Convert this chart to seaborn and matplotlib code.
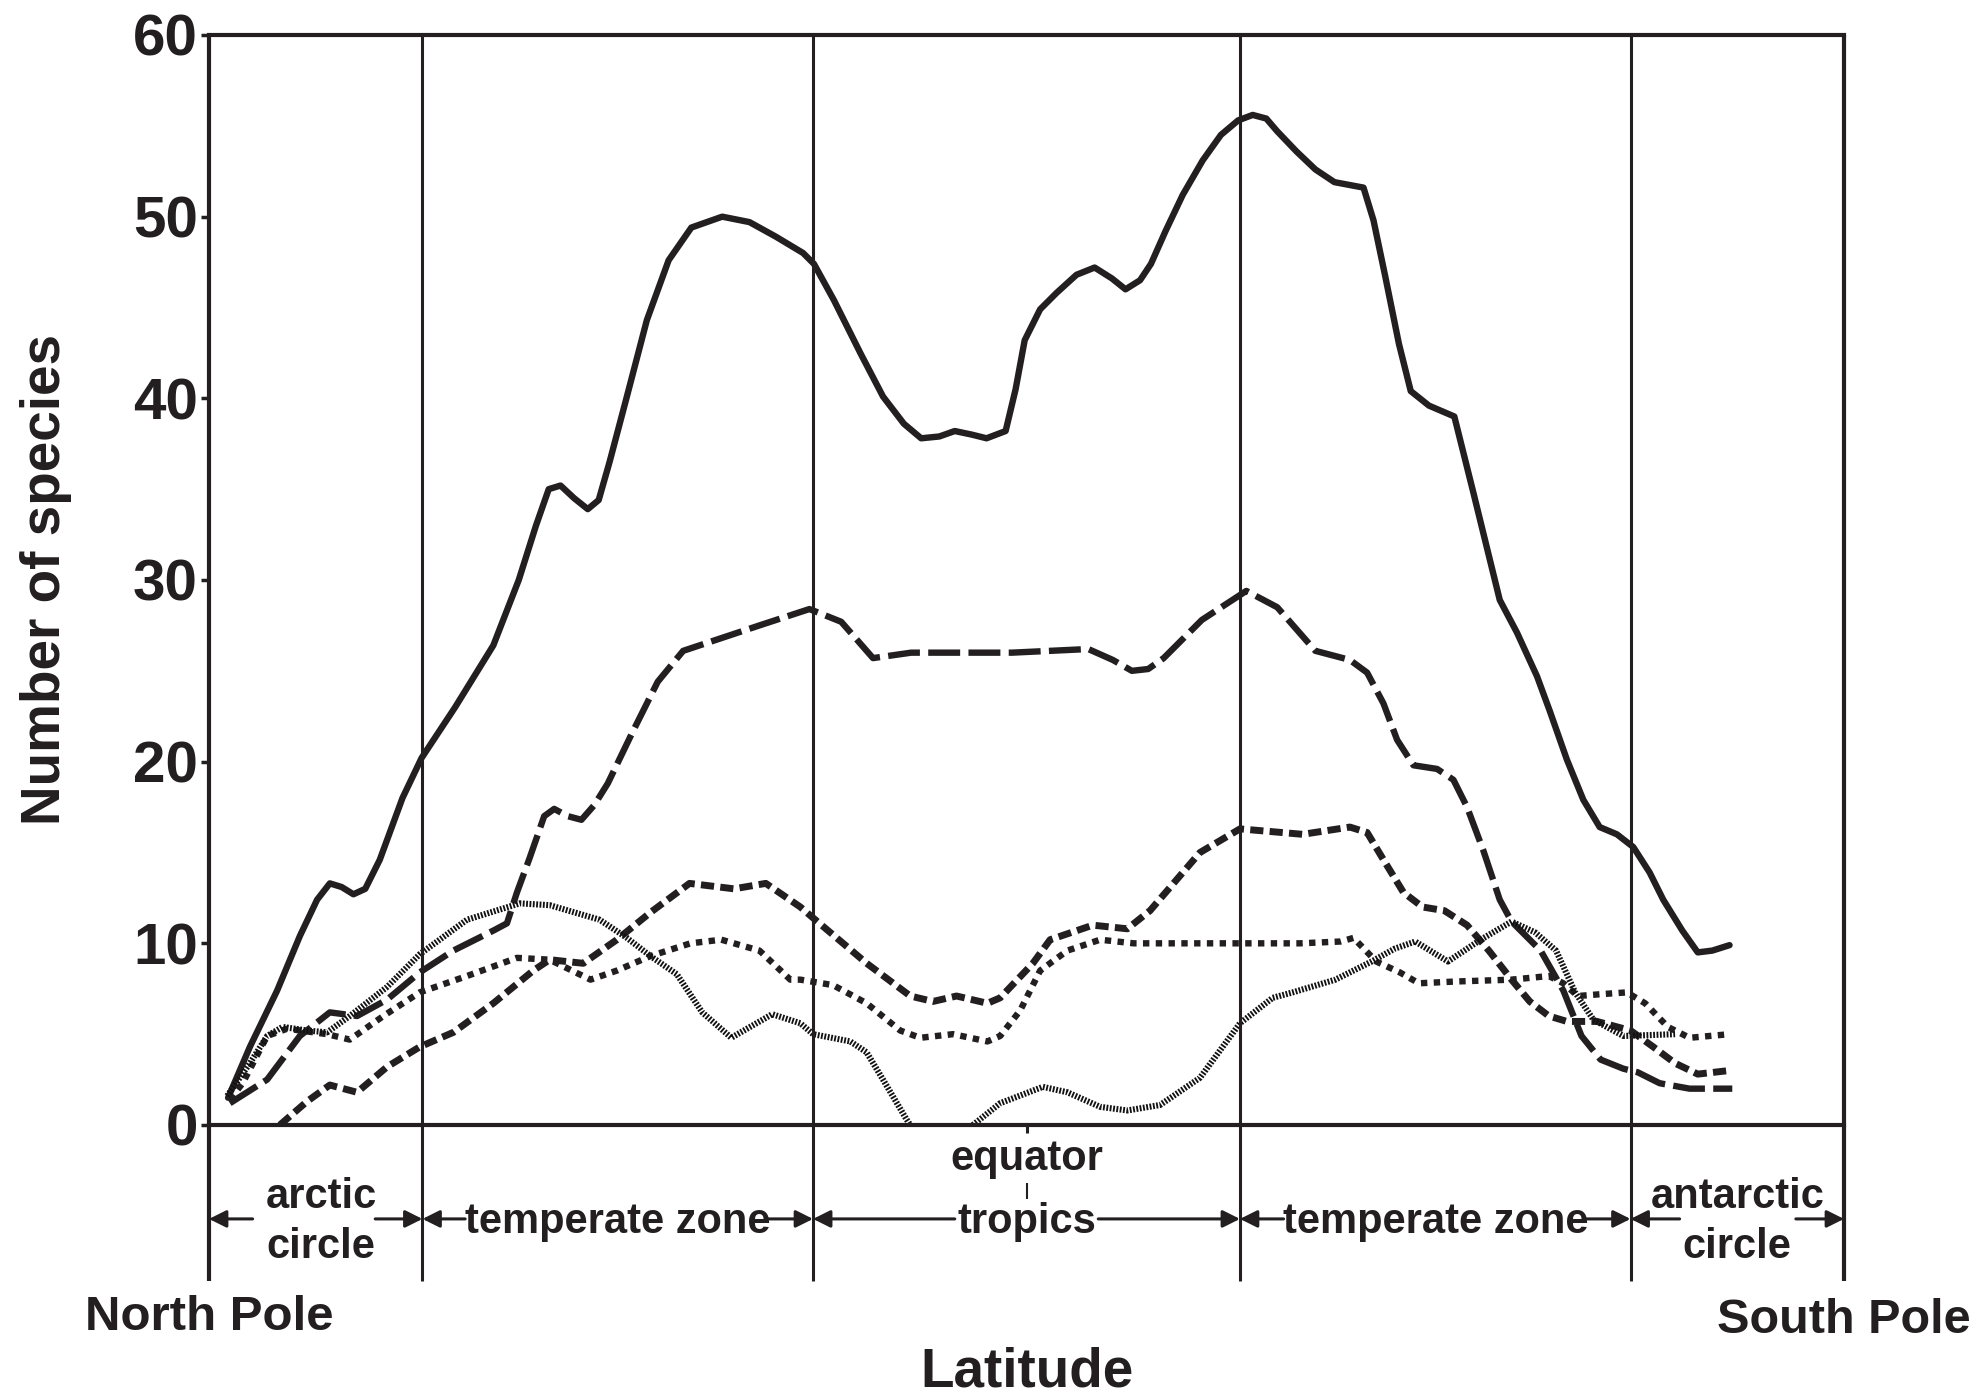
import numpy as np
import pandas as pd
import matplotlib
matplotlib.use("Agg")
import matplotlib.pyplot as plt
import seaborn as sns

# ---------------- data (latitude in degrees, north positive) ----------------
zone_bounds = [90, 66.5, 23.5, -23.5, -66.5, -90]
y_ticks = [0, 10, 20, 30, 40, 50, 60]

solid_lat = [87.9, 85.5, 82.5, 80.0, 78.1, 76.7, 75.4, 74.1, 72.8, 71.2, 68.7, 66.6,
             62.9, 58.7, 55.9, 54.0, 52.6, 51.3, 49.8, 48.3, 47.1, 45.9, 44.1, 41.8,
             39.4, 36.9, 33.5, 30.5, 27.6, 24.6, 23.4, 21.2, 18.3, 15.8, 13.5, 11.6,
             9.6, 7.9, 6.0, 4.4, 2.3, 1.2, 0.2, -1.5, -3.3, -5.5, -7.5, -9.4, -10.9,
             -12.5, -13.7, -15.3, -17.2, -19.4, -21.4, -23.3, -24.9, -26.4, -27.6,
             -29.7, -31.8, -33.9, -37.1, -38.2, -39.5, -41.0, -42.3, -44.3, -47.1,
             -49.2, -52.1, -54.0, -56.2, -57.6, -59.5, -61.3, -63.1, -65.0, -66.8,
             -68.6, -70.1, -72.2, -73.9, -75.5, -77.4]
solid_val = [1.5, 4.3, 7.4, 10.4, 12.4, 13.3, 13.1, 12.7, 13.0, 14.6, 18.0, 20.2,
             23.0, 26.4, 30.0, 33.0, 35.0, 35.2, 34.5, 33.9, 34.4, 36.5, 39.9, 44.3,
             47.6, 49.4, 50.0, 49.7, 48.9, 48.0, 47.4, 45.4, 42.5, 40.1, 38.6, 37.8,
             37.9, 38.2, 38.0, 37.8, 38.2, 40.5, 43.2, 44.9, 45.8, 46.8, 47.2, 46.6,
             46.0, 46.5, 47.4, 49.2, 51.2, 53.1, 54.5, 55.3, 55.6, 55.4, 54.7,
             53.6, 52.6, 51.9, 51.6, 49.8, 46.7, 43.0, 40.4, 39.6, 39.0,
             34.8, 28.9, 27.1, 24.7, 22.8, 20.1, 17.9, 16.4, 16.0, 15.3,
             13.9, 12.4, 10.7, 9.5, 9.6, 9.9]

longdash_lat = [87.7, 83.6, 80.0, 76.7, 73.7, 70.4, 66.8, 63.1, 58.7, 57.2, 56.1, 54.7,
                53.1, 52.0, 50.5, 49.0, 47.6, 46.1, 43.4, 40.6, 37.8, 33.6, 29.4, 23.9,
                20.4, 16.9, 12.7, 7.2, 1.6, -6.8, -9.5, -11.6, -13.4, -15.1, -19.3,
                -24.2, -27.6, -31.8, -35.6, -37.5, -39.3, -40.8, -42.6, -45.2, -47.0,
                -48.5, -50.3, -52.1, -53.4, -56.6, -59.1, -61.1, -63.2, -65.7, -67.3,
                -69.7, -73.0, -77.7]
longdash_val = [1.2, 2.5, 4.9, 6.2, 6.0, 6.9, 8.4, 9.6, 10.7, 11.1, 12.8, 14.7,
                17.0, 17.4, 17.0, 16.8, 17.6, 18.8, 21.6, 24.4, 26.1, 26.8, 27.5, 28.4,
                27.7, 25.7, 26.0, 26.0, 26.0, 26.2, 25.6, 25.0, 25.1, 25.7, 27.8,
                29.4, 28.5, 26.1, 25.6, 24.9, 23.2, 21.2, 19.8, 19.6, 19.0,
                17.5, 15.1, 12.4, 11.2, 9.6, 7.4, 4.9, 3.6, 3.1, 2.9,
                2.3, 2.0, 2.0]

meddash_lat = [82.2, 79.2, 76.7, 73.7, 70.4, 66.8, 63.1, 58.7, 54.3, 52.5, 48.8, 45.1,
               41.4, 37.1, 32.2, 28.7, 24.9, 23.5, 17.6, 12.8, 10.3, 7.7, 4.3, 2.9,
               -0.7, -2.6, -7.3, -11.1, -13.6, -19.1, -23.5, -30.4, -35.6, -37.5,
               -39.3, -41.5, -43.6, -46.0, -48.5, -50.9, -53.4, -55.4, -57.5, -59.5,
               -62.8, -66.5, -69.0, -71.4, -73.9, -77.4]
meddash_val = [0.0, 1.3, 2.2, 1.8, 3.2, 4.3, 5.1, 6.7, 8.5, 9.1, 8.9, 10.2,
               11.7, 13.3, 13.0, 13.3, 12.0, 11.4, 8.9, 7.1, 6.8, 7.1, 6.7, 7.0,
               8.9, 10.2, 11.0, 10.8, 11.8, 15.0, 16.3, 16.0, 16.4, 16.1,
               14.6, 12.8, 12.0, 11.8, 11.0, 9.6, 8.0, 6.8, 6.0, 5.7,
               5.7, 5.2, 4.3, 3.4, 2.8, 3.0]

dotted_lat = [87.7, 86.3, 83.6, 81.4, 77.0, 74.5, 70.8, 66.8, 61.6, 56.1, 52.5, 48.0,
              45.1, 41.4, 37.0, 33.6, 29.4, 26.0, 24.9, 21.3, 17.6, 13.9, 11.7, 8.1,
              4.3, 2.9, 0.7, -1.5, -4.5, -8.1, -11.8, -20.0, -30.1, -34.6, -36.0,
              -38.5, -41.1, -43.2, -47.3, -53.4, -57.5, -59.1, -60.7, -63.2, -66.1,
              -68.1, -70.6, -73.0, -77.4]
dotted_val = [1.4, 2.3, 4.9, 5.3, 5.0, 4.7, 6.0, 7.3, 8.2, 9.2, 9.1, 8.0,
              8.5, 9.3, 10.0, 10.2, 9.6, 8.0, 8.0, 7.7, 6.7, 5.2, 4.8, 5.0,
              4.6, 4.9, 6.3, 8.5, 9.6, 10.2, 10.0, 10.0, 10.0, 10.1, 10.3,
              9.0, 8.4, 7.8, 7.9, 8.0, 8.2, 7.8, 7.1, 7.2, 7.3,
              6.7, 5.4, 4.8, 5.0]

# hatched curve: two pieces (it drops out at zero near the equator)
hatched_north_lat = [88.0, 85.5, 83.6, 81.9, 79.2, 77.0, 74.5, 70.4, 66.8, 61.6, 55.8,
                     52.5, 47.0, 44.0, 41.4, 38.5, 35.7, 32.5, 28.0, 24.9, 23.5, 19.4,
                     17.6, 15.8, 13.2, 12.8]
hatched_north_val = [1.6, 3.4, 4.9, 5.4, 5.2, 5.1, 6.0, 7.6, 9.4, 11.3, 12.2,
                     12.1, 11.3, 10.3, 9.3, 8.3, 6.2, 4.8, 6.1, 5.6, 5.0, 4.6,
                     4.0, 2.5, 0.3, 0.0]
hatched_south_lat = [5.9, 2.9, -1.8, -4.5, -8.1, -11.1, -14.7, -19.1, -23.5, -27.1,
                     -29.3, -34.0, -38.0, -40.5, -42.8, -46.4, -50.0, -53.4, -56.0,
                     -58.3, -60.4, -62.4, -65.7, -71.4]
hatched_south_val = [0.0, 1.2, 2.1, 1.8, 1.0, 0.8, 1.1, 2.6, 5.6, 7.0,
                     7.3, 8.0, 9.0, 9.7, 10.1, 9.0, 10.2, 11.2, 10.6,
                     9.6, 7.3, 5.8, 4.9, 5.0]

# ---------------- style ----------------
INK = "#231f20"
sns.set_theme(style="ticks")
plt.rcParams["font.family"] = ["Liberation Sans", "DejaVu Sans"]
plt.rcParams["font.weight"] = "bold"
plt.rcParams["text.color"] = INK
plt.rcParams["axes.edgecolor"] = INK

fig = plt.figure(figsize=(19.83, 13.96), dpi=100)
ax = fig.add_axes([0.1054, 0.19413, 0.82451, 0.7808])


def draw(lat, val, lw, ls, color=INK):
    df = pd.DataFrame({"lat": lat, "val": val})
    sns.lineplot(data=df, x="lat", y="val", ax=ax, color=color, linewidth=lw,
                 linestyle=ls, sort=False, estimator=None, legend=False,
                 solid_capstyle="round", solid_joinstyle="round",
                 dash_joinstyle="round", dash_capstyle="butt")


draw(solid_lat, solid_val, 4.6, "-")
draw(longdash_lat, longdash_val, 4.6, (0, (5.0, 1.3)))
draw(meddash_lat, meddash_val, 5.0, (0, (1.9, 0.9)))
draw(dotted_lat, dotted_val, 4.6, (0, (1.0, 1.0)))
draw(hatched_north_lat, hatched_north_val, 4.4, (0, (0.3, 0.25)), "#111111")
draw(hatched_south_lat, hatched_south_val, 4.4, (0, (0.3, 0.25)), "#111111")

ax.set_xlim(90, -90)
ax.set_ylim(0, 60)
ax.set_xlabel("")

# frame
for side in ["left", "right"]:
    ax.spines[side].set_visible(False)
for side in ["top", "bottom"]:
    ax.spines[side].set_linewidth(3)
    ax.spines[side].set_color(INK)

ax.vlines(zone_bounds, -8.6, 60, colors=INK,
          linewidths=[3, 2.2, 2.2, 2.2, 2.2, 3], clip_on=False, zorder=3)

ax.set_yticks(y_ticks)
ax.set_yticklabels([str(t) for t in y_ticks])
ax.tick_params(axis="y", left=True, direction="out", length=6, width=2.5, pad=2,
               labelsize=42, colors=INK)
ax.set_xticks([0])
ax.set_xticklabels([""])
ax.tick_params(axis="x", bottom=True, direction="out", length=6, width=2.2, colors=INK)
for lab in ax.get_yticklabels():
    lab.set_fontweight("bold")

# y label
ax.set_ylabel("Number of species", fontsize=39.5, fontweight="bold", color=INK)
ax.yaxis.set_label_coords(-0.100, 0.5)
ax.yaxis.label.set_verticalalignment("center")

# zone labels
lab_fs = 30
centers = [(zone_bounds[i] + zone_bounds[i + 1]) / 2 for i in range(5)]
ax.text(centers[0] - 0.6, -4.56, "arctic", ha="center", va="baseline", fontsize=lab_fs, fontweight="bold")
ax.text(centers[0] - 0.6, -7.33, "circle", ha="center", va="baseline", fontsize=lab_fs, fontweight="bold")
ax.text(centers[1], -5.94, "temperate zone", ha="center", va="baseline", fontsize=lab_fs, fontweight="bold")
ax.text(0, -2.47, "equator", ha="center", va="baseline", fontsize=lab_fs, fontweight="bold")
ax.text(0, -5.94, "tropics", ha="center", va="baseline", fontsize=lab_fs, fontweight="bold")
ax.vlines([0], -4.1, -3.2, colors=INK, linewidths=1.5, clip_on=False)
ax.text(centers[3], -5.94, "temperate zone", ha="center", va="baseline", fontsize=lab_fs, fontweight="bold")
ax.text(centers[4], -4.56, "antarctic", ha="center", va="baseline", fontsize=lab_fs, fontweight="bold")
ax.text(centers[4], -7.33, "circle", ha="center", va="baseline", fontsize=lab_fs, fontweight="bold")

# arrows (tail, head)
arrow_y = -5.17
arrows = [(85.2, 90), (71.7, 66.5), (61.8, 66.5), (28.5, 23.5), (7.9, 23.5),
          (-7.9, -23.5), (-28.3, -23.5), (-61.7, -66.5), (-71.9, -66.5), (-84.7, -90)]
for tail, head in arrows:
    ax.annotate("", xy=(head, arrow_y), xytext=(tail, arrow_y),
                arrowprops=dict(arrowstyle="-|>", color=INK, lw=2.2,
                                mutation_scale=26, shrinkA=0, shrinkB=0),
                annotation_clip=False)

ax.text(90, -11.3, "North Pole", ha="center", va="baseline", fontsize=35.5, fontweight="bold")
ax.text(-90, -11.45, "South Pole", ha="center", va="baseline", fontsize=35, fontweight="bold")
ax.text(0, -14.4, "Latitude", ha="center", va="baseline", fontsize=39.5, fontweight="bold")

fig.savefig("out.png", dpi=100, facecolor="white")
